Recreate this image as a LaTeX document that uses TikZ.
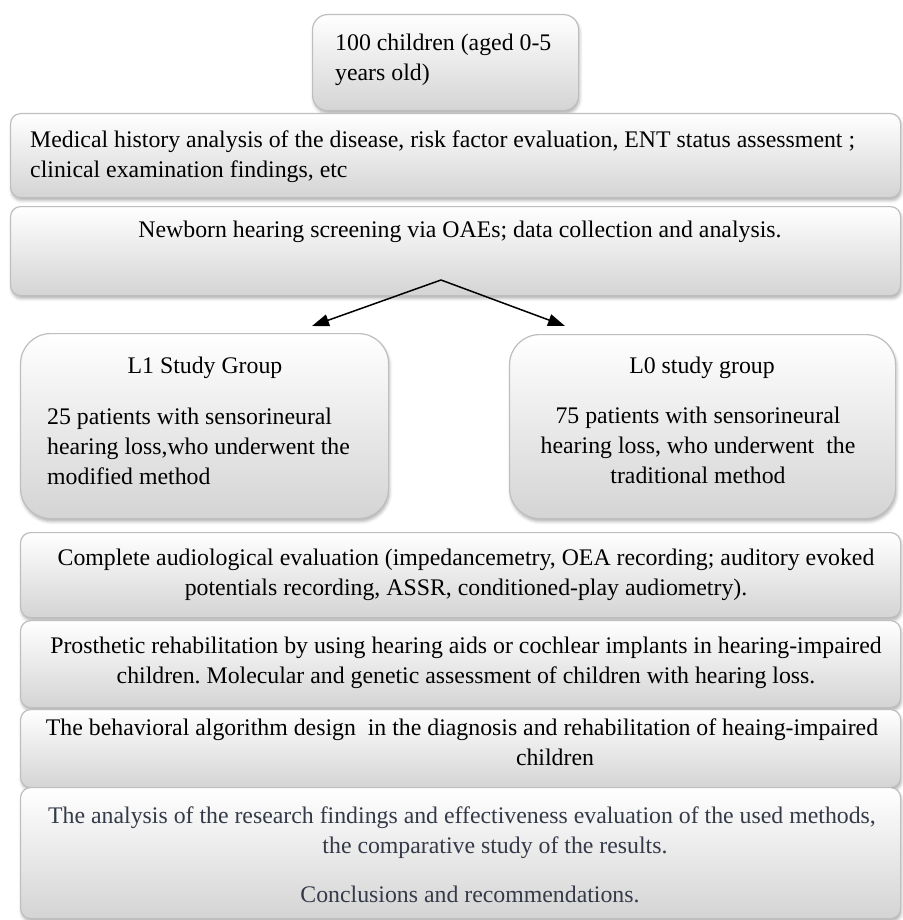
\documentclass[tikz,border=0pt]{standalone}
\usepackage{fontspec}
\setmainfont{Liberation Serif}
\usetikzlibrary{arrows.meta,positioning,shadows.blur,calc}
\frenchspacing

\definecolor{boxedge}{RGB}{190,190,190}
\definecolor{boxfoot}{RGB}{212,212,212}
\definecolor{slatetext}{RGB}{52,58,72}

\begin{document}
\begin{tikzpicture}[x=1pt, y=-1pt, >={Triangle[length=17pt,width=12pt]},
    font=\fontsize{23.8}{30}\selectfont]
    % Estilos para las cajas
    \tikzstyle{panel} = [draw=boxedge, line width=1.2pt, top color=white, bottom color=boxfoot,
        rounded corners=10pt, anchor=north west, inner sep=0pt,
        blur shadow={shadow xshift=1pt, shadow yshift=-3pt, shadow blur radius=3pt, shadow opacity=30}]
    \tikzstyle{groupbox} = [panel, rounded corners=30pt]
    \tikzstyle{txt} = [inner sep=0pt, align=center, anchor=north]
    \tikzstyle{ltxt} = [inner sep=0pt, align=left, anchor=north west]

    \useasboundingbox (0,0) rectangle (902,920);

    % --- Cajas ---
    \node [panel, rounded corners=15pt, minimum width=266pt, minimum height=96pt] (start) at (312,14) {};
    \node [panel, minimum width=890pt, minimum height=84pt] (history) at (10,113) {};
    \node [panel, minimum width=890pt, minimum height=89pt] (screening) at (10,206) {};
    \node [groupbox, minimum width=368pt, minimum height=185pt] (group_l1) at (20,333) {};
    \node [groupbox, minimum width=386pt, minimum height=184pt] (group_l0) at (509,334) {};
    \node [panel, minimum width=880pt, minimum height=85pt] (audio) at (20,532) {};
    \node [panel, minimum width=880pt, minimum height=87pt] (prosthesis) at (20,620) {};
    \node [panel, minimum width=880pt, minimum height=78pt] (algorithm) at (20,709) {};
    \node [panel, minimum width=880pt, minimum height=131pt] (results) at (20,787) {};

    % --- Textos ---
    \node [ltxt] (start_txt) at ($(start.north west)+(23,20)$) {100 children (aged 0-5\\years old)};
    \node [ltxt] (history_txt) at ($(history.north west)+(20,18)$)
        {Medical history analysis of the disease, risk factor evaluation, ENT status assessment ;\\
         clinical examination findings, etc};
    \node [txt] (screening_txt) at ($(screening.north west)+(450,15)$)
        {Newborn hearing screening via OAEs; data collection and analysis.};
    \node [txt] (l1_title) at ($(group_l1.north west)+(185,24)$) {L1 Study Group};
    \node [ltxt] (l1_body) at ($(group_l1.north west)+(27,75)$)
        {25 patients with sensorineural\\hearing loss,who underwent the\\modified method};
    \node [txt] (l0_title) at ($(group_l0.north west)+(193,23)$) {L0 study group};
    \node [txt] (l0_body) at ($(group_l0.north west)+(189,73)$)
        {75 patients with sensorineural\\hearing loss, who underwent~ the\\traditional method};
    \node [txt] (audio_txt) at ($(audio.north west)+(446,17)$)
        {Complete audiological evaluation (impedancemetry, OEA recording; auditory evoked\\
         potentials recording, ASSR, conditioned-play audiometry).};
    \node [txt] (prosthesis_txt) at ($(prosthesis.north west)+(446,17)$)
        {Prosthetic rehabilitation by using hearing aids or cochlear implants in hearing-impaired\\
         children. Molecular and genetic assessment of children with hearing loss.};
    \node [txt] (algorithm_txt) at ($(algorithm.north west)+(442,10)$)
        {The behavioral algorithm design~ in the diagnosis and rehabilitation of heaing-impaired\\
         \hspace*{186pt}children};
    \node [txt, text=slatetext] (results_txt) at ($(results.north west)+(442,20)$)
        {The analysis of the research findings and effectiveness evaluation of the used methods,\\
         \hspace*{66pt}the comparative study of the results.\\[19pt]
         \hspace*{16pt}Conclusions and recommendations.};

    % --- Flechas ---
    \coordinate (split) at ($(screening.north west)+(431,74)$);
    \coordinate (tip_l1) at ($(group_l1.north west)+(292,-7)$);
    \coordinate (tip_l0) at ($(group_l0.north west)+(56,-8)$);
    \draw [->, line width=1.5pt] (split) -- (tip_l1);
    \draw [->, line width=1.5pt] (split) -- (tip_l0);
\end{tikzpicture}
\end{document}
